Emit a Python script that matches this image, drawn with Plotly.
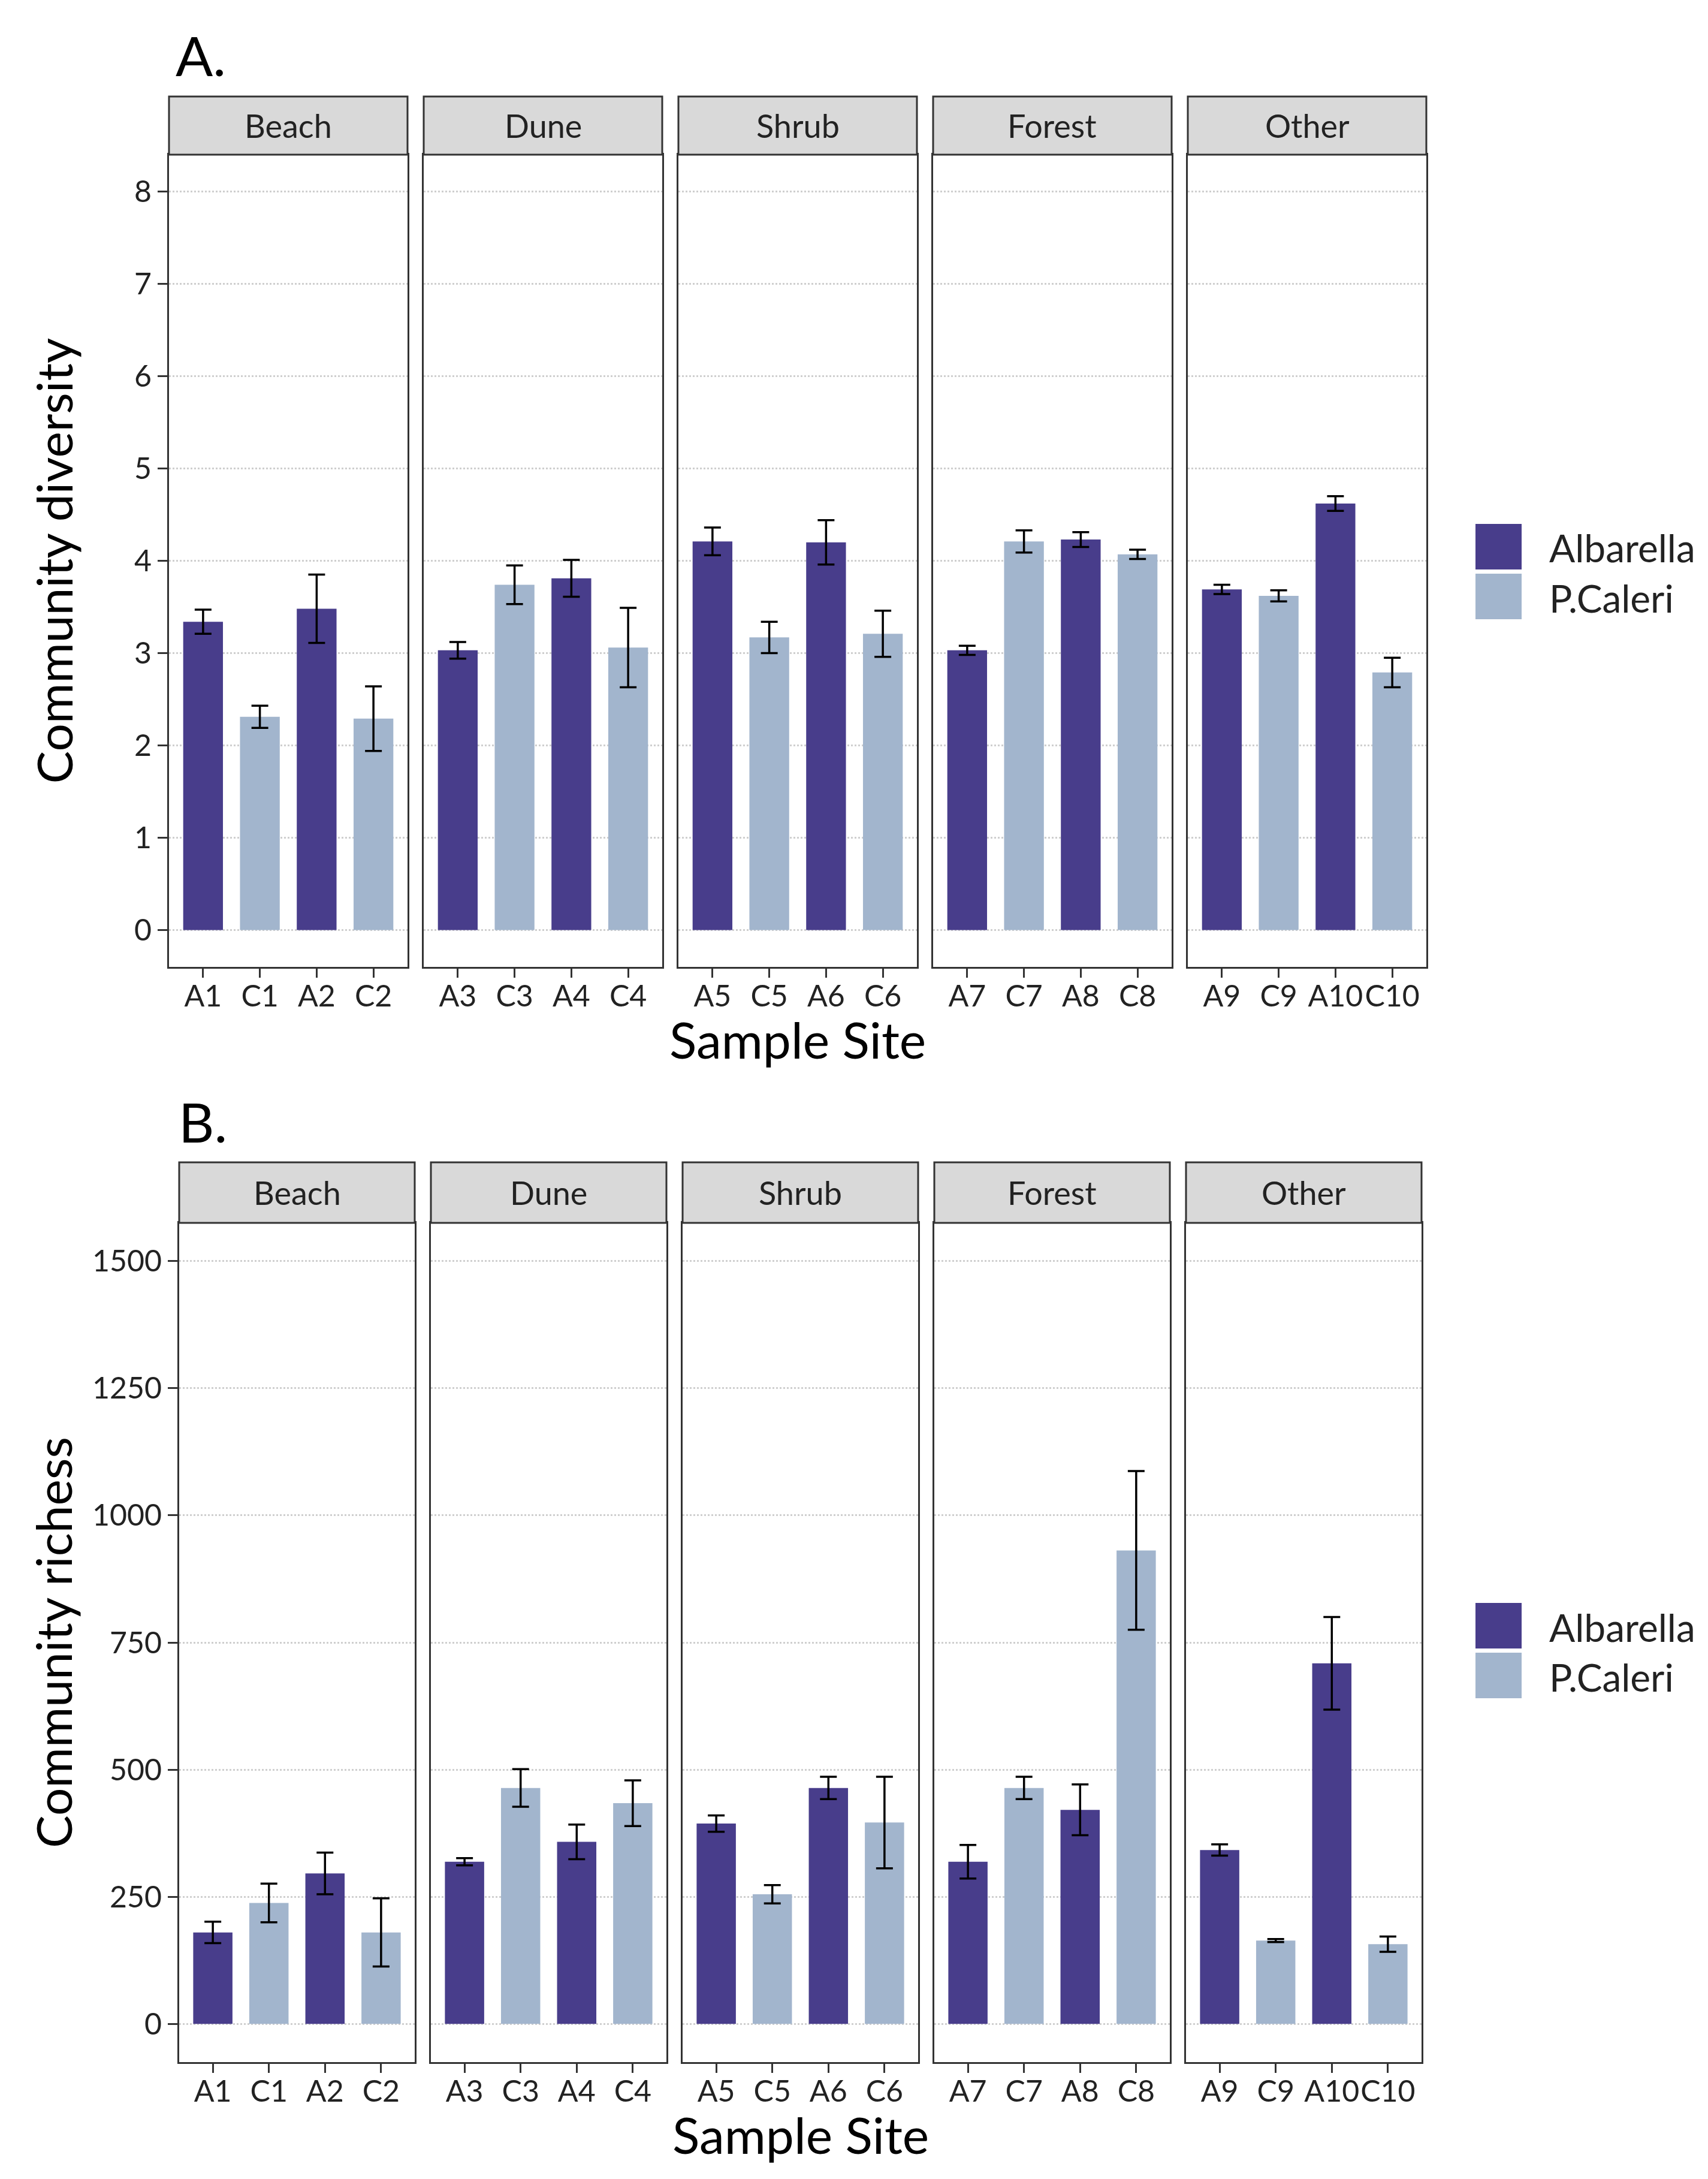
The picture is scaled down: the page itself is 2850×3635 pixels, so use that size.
import plotly.graph_objects as go

# habitat facets and sample sites (4 per facet)
habitats = ["Beach", "Dune", "Shrub", "Forest", "Other"]
sites = ["A1", "C1", "A2", "C2", "A3", "C3", "A4", "C4", "A5", "C5",
         "A6", "C6", "A7", "C7", "A8", "C8", "A9", "C9", "A10", "C10"]
islands = ["Albarella", "P.Caleri"]

# panel A: community diversity (mean, error)
diversity = [3.34, 2.31, 3.48, 2.29, 3.03, 3.74, 3.81, 3.06, 4.21, 3.17,
             4.20, 3.21, 3.03, 4.21, 4.23, 4.07, 3.69, 3.62, 4.62, 2.79]
diversity_err = [0.13, 0.12, 0.37, 0.35, 0.09, 0.21, 0.20, 0.43, 0.15, 0.17,
                 0.24, 0.25, 0.05, 0.12, 0.08, 0.05, 0.05, 0.06, 0.08, 0.16]

# panel B: community richness (mean, error)
richness = [180, 238, 296, 180, 319, 464, 358, 434, 394, 255,
            464, 396, 319, 464, 421, 931, 342, 164, 709, 157]
richness_err = [21, 38, 41, 67, 7, 37, 34, 45, 16, 18,
                22, 90, 33, 22, 50, 156, 11, 3, 91, 15]

colors = {"Albarella": "#483D8B", "P.Caleri": "#A2B5CD"}
FONT = "Lato"
TXT = "#222222"
W, H = 2850, 3635


def fx(px):
    return px / W


def fy(py):
    return 1 - py / H


def label(text, x, y, size, color=TXT, xanchor="center", angle=0):
    return dict(text=text, xref="paper", yref="paper", x=fx(x), y=fy(y),
                xanchor=xanchor, yanchor="middle", textangle=angle,
                showarrow=False, font=dict(family=FONT, size=size, color=color))


panels = [
    dict(values=diversity, errors=diversity_err, yrange=[-0.4, 8.4], dtick=1,
         strip_top=153, top=250, bottom=1605, left=274, width=398, gap=27,
         ytitle="Community diversity", label="A.", label_y=84, label_x=283,
         leg_top=866),
    dict(values=richness, errors=richness_err, yrange=[-75, 1575], dtick=250,
         strip_top=1931, top=2032, bottom=3432, left=291, width=393, gap=27,
         ytitle="Community richess", label="B.", label_y=1862, label_x=288,
         leg_top=2666),
]

fig = go.Figure()
shapes = []
annotations = []
layout_axes = {}

n = 0
for p in panels:
    for h, hab in enumerate(habitats):
        n += 1
        idx = range(h * 4, h * 4 + 4)
        xs = [sites[i] for i in idx]
        ys = [p["values"][i] for i in idx]
        es = [p["errors"][i] for i in idx]
        cols = [colors[islands[0]] if s.startswith("A") else colors[islands[1]] for s in xs]
        fig.add_trace(go.Bar(
            x=xs, y=ys, width=0.7,
            marker=dict(color=cols, line=dict(width=0)),
            error_y=dict(type="data", array=es, color="black", thickness=3.5, width=14),
            xaxis="x%d" % n, yaxis="y%d" % n, showlegend=False,
        ))

        x0 = p["left"] + h * (p["width"] + p["gap"])
        x1 = x0 + p["width"]
        layout_axes["xaxis%d" % n] = dict(
            domain=[fx(x0), fx(x1)], anchor="y%d" % n,
            range=[-0.6, 3.6], type="category", tickangle=0,
            showline=True, mirror=True, linecolor="#333333", linewidth=3,
            ticks="outside", ticklen=15, tickwidth=3, tickcolor="#333333",
            ticklabelstandoff=-12,
            tickfont=dict(family=FONT, size=50, color=TXT),
            showgrid=False, zeroline=False, fixedrange=True,
        )
        layout_axes["yaxis%d" % n] = dict(
            domain=[fy(p["bottom"]), fy(p["top"])], anchor="x%d" % n,
            range=p["yrange"], dtick=p["dtick"], tick0=0,
            showline=True, mirror=True, linecolor="#333333", linewidth=3,
            showgrid=True, gridcolor="#CFCFCF", griddash="dot", gridwidth=3,
            zeroline=False, fixedrange=True,
            ticks="outside" if h == 0 else "", ticklen=16, tickwidth=3,
            tickcolor="#333333", showticklabels=(h == 0),
            tickfont=dict(family=FONT, size=50, color=TXT),
        )
        # facet strip
        shapes.append(dict(type="rect", xref="paper", yref="paper",
                           x0=fx(x0), x1=fx(x1), y0=fy(p["top"]), y1=fy(p["strip_top"]),
                           fillcolor="#D9D9D9", line=dict(color="#333333", width=3)))
        annotations.append(label(hab, (x0 + x1) / 2, (p["top"] + p["strip_top"]) / 2, 54))

    right = p["left"] + 5 * p["width"] + 4 * p["gap"]
    # panel letter
    annotations.append(label(p["label"], p["label_x"], p["label_y"], 92, "black", xanchor="left"))
    # axis titles
    annotations.append(label(p["ytitle"], 80, (p["top"] + p["bottom"]) / 2, 82, "black", angle=-90))
    annotations.append(label("Sample Site", (p["left"] + right) / 2, p["bottom"] + 120, 84, "black"))
    # legend
    for k, isl in enumerate(islands):
        ky = p["leg_top"] + k * 83
        shapes.append(dict(type="rect", xref="paper", yref="paper",
                           x0=fx(2454), x1=fx(2531), y0=fy(ky + 76), y1=fy(ky),
                           fillcolor=colors[isl], line=dict(width=0)))
        annotations.append(label(isl, 2575, ky + 40, 64, xanchor="left"))

fig.update_layout(
    width=W, height=H,
    margin=dict(l=0, r=0, t=0, b=0),
    paper_bgcolor="white", plot_bgcolor="white",
    shapes=shapes, annotations=annotations,
    **layout_axes,
)

fig.write_html("out.html")
